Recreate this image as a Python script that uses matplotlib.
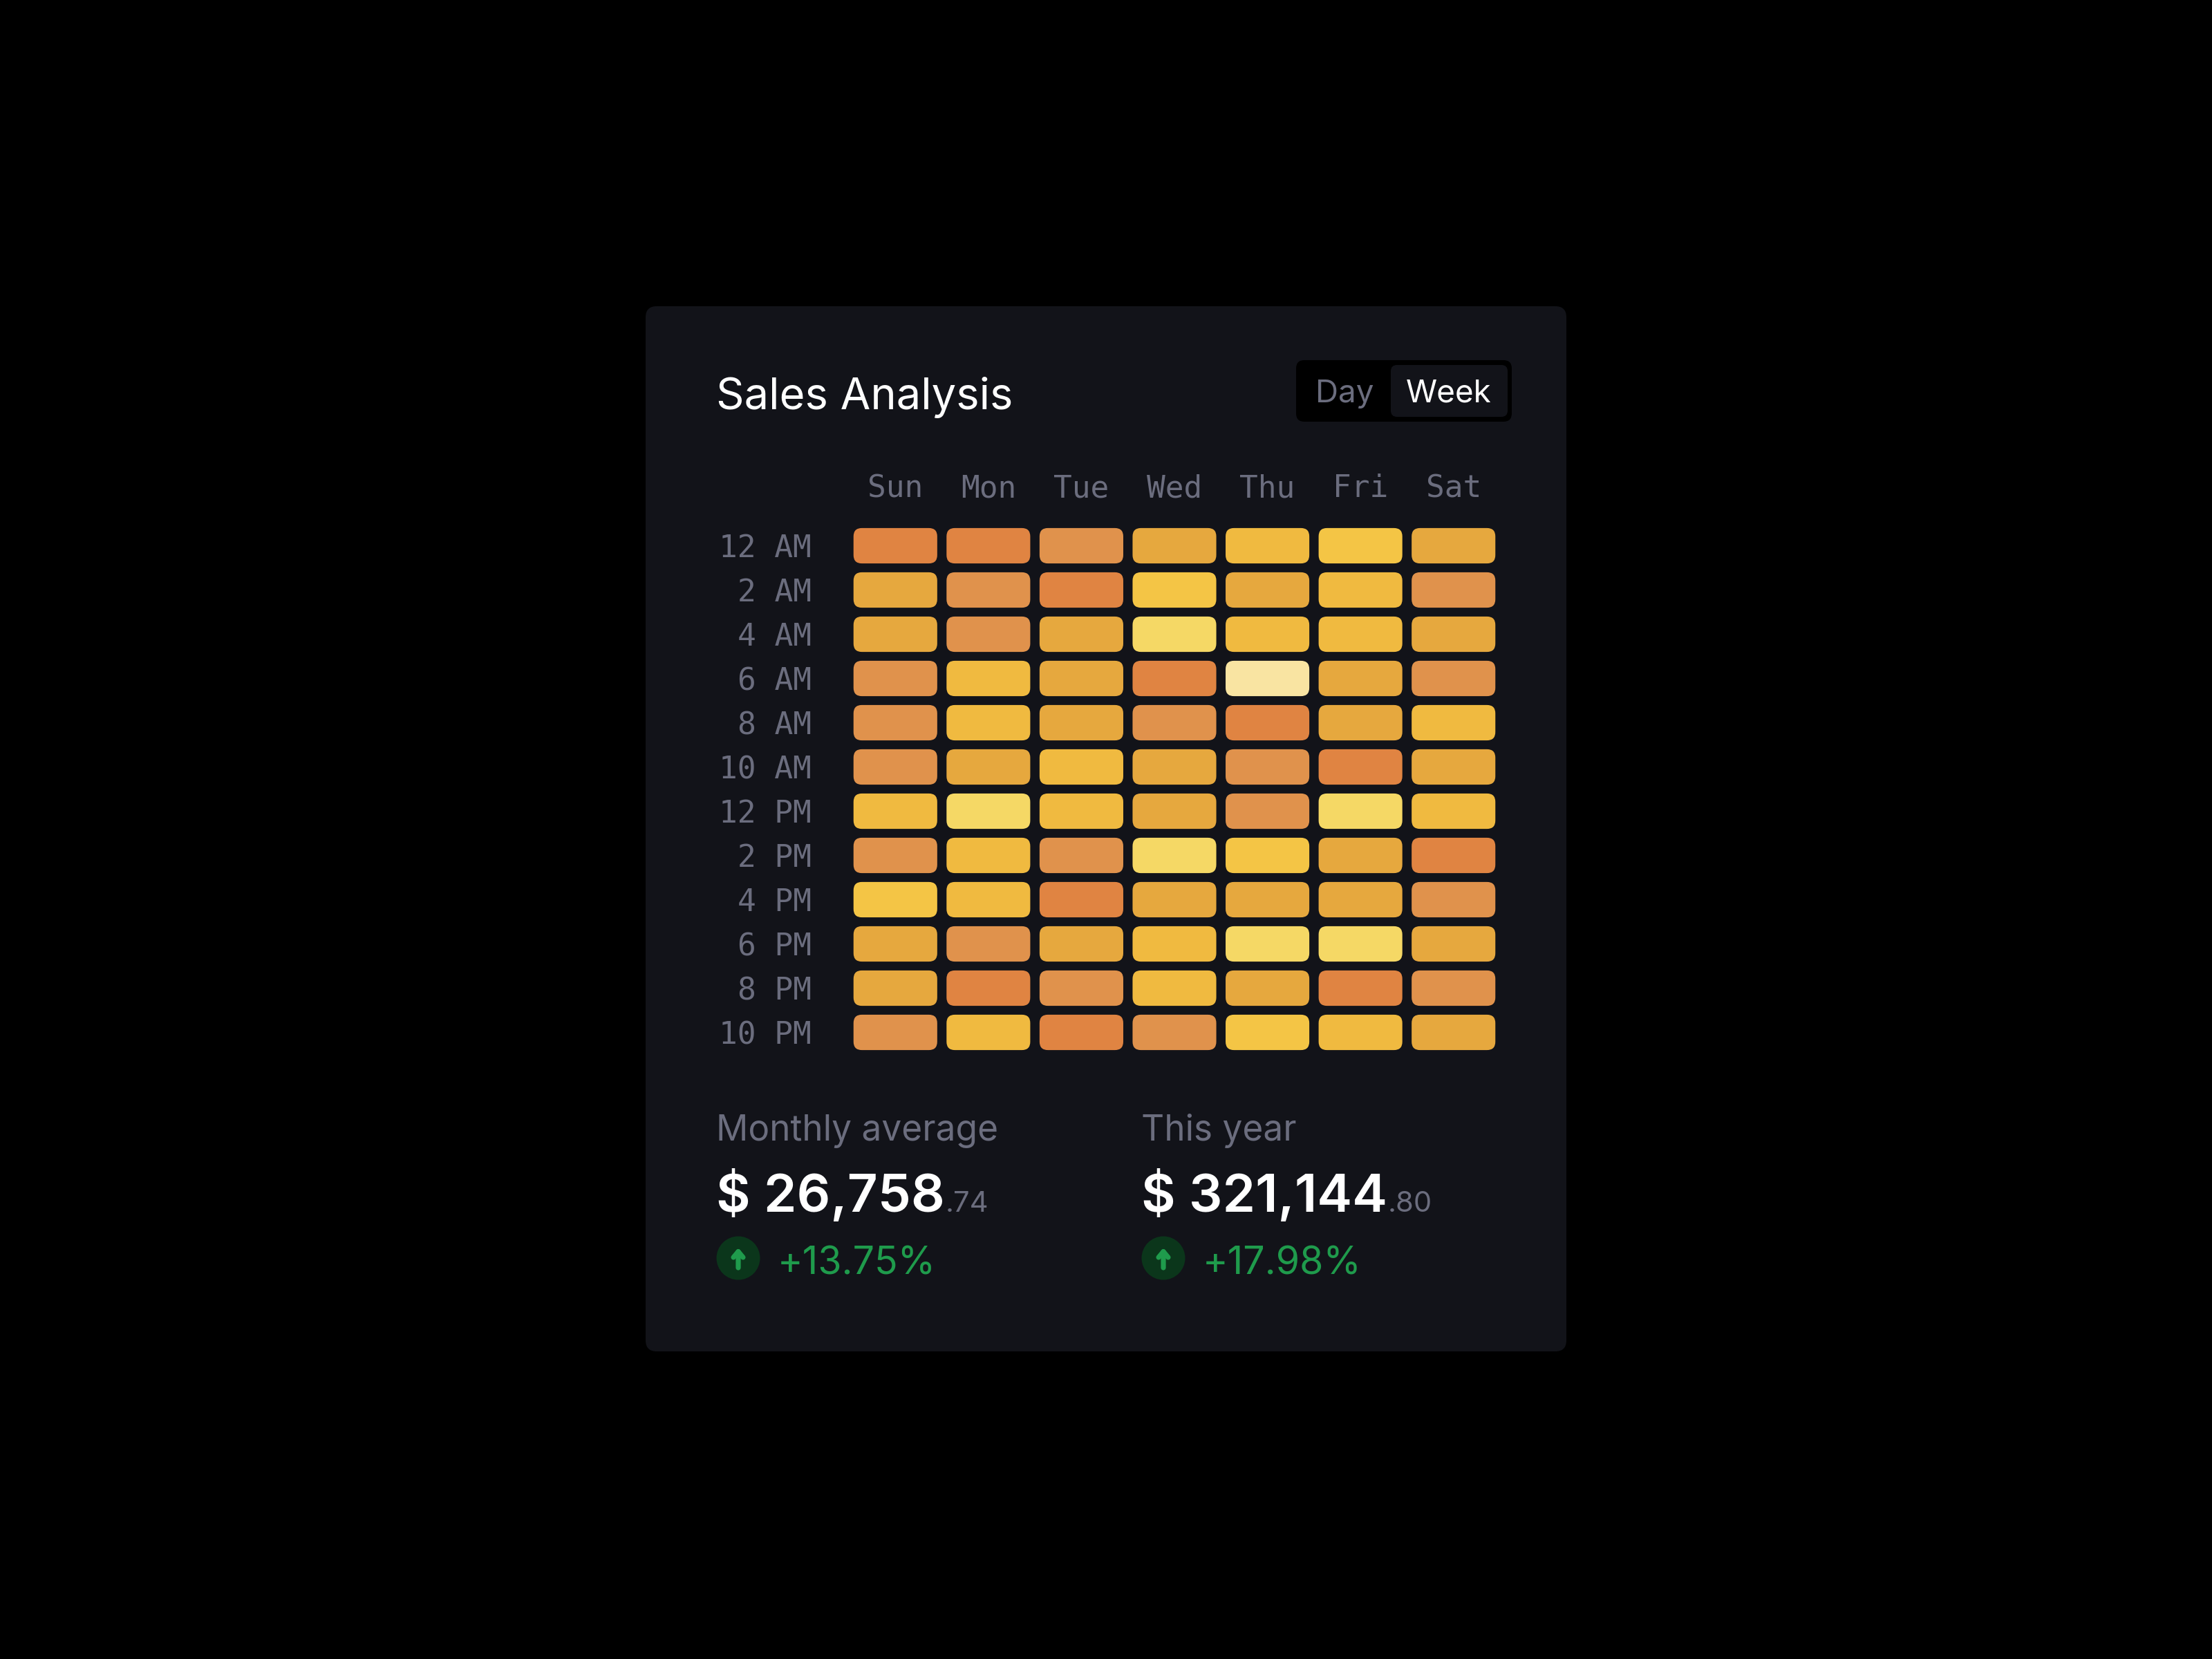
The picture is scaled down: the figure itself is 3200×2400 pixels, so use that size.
"""
Sales Analysis card: weekly heatmap of sales intensity by hour and weekday.
"""

import numpy as np
import matplotlib
matplotlib.use("Agg")
import matplotlib.pyplot as plt
from matplotlib.patches import FancyBboxPatch, Circle

# ---- data ----
days = ["Sun", "Mon", "Tue", "Wed", "Thu", "Fri", "Sat"]
hours = ["12 AM", "2 AM", "4 AM", "6 AM", "8 AM", "10 AM",
         "12 PM", "2 PM", "4 PM", "6 PM", "8 PM", "10 PM"]

# sales intensity level per (hour, weekday), 0 = low ... 6 = high
levels = [
    [0, 0, 1, 2, 3, 4, 2],
    [2, 1, 0, 4, 2, 3, 1],
    [2, 1, 2, 5, 3, 3, 2],
    [1, 3, 2, 0, 6, 2, 1],
    [1, 3, 2, 1, 0, 2, 3],
    [1, 2, 3, 2, 1, 0, 2],
    [3, 5, 3, 2, 1, 5, 3],
    [1, 3, 1, 5, 4, 2, 0],
    [4, 3, 0, 2, 2, 2, 1],
    [2, 1, 2, 3, 5, 5, 2],
    [2, 0, 1, 3, 2, 0, 1],
    [1, 3, 0, 1, 4, 3, 2],
]
level_colors = ["#E08442", "#E0924C", "#E6A83E", "#F0BA40",
                "#F4C545", "#F5D865", "#F9E4A2"]

stat_labels = ["Monthly average", "This year"]
stat_whole = ["$ 26,758", "$ 321,144"]
stat_cents = [".74", ".80"]
stat_change = ["+13.75%", "+17.98%"]

# ---- style ----
BG = "#000000"
CARD = "#121319"
GREY = "#6B6D7E"
WHITE = "#FFFFFF"
GREEN = "#1F9B4C"
GREEN_BG = "#0B361B"
SANS = ["Inter", "DejaVu Sans"]
MONO = ["DejaVu Sans Mono"]

W, H = 3200, 2400
fig = plt.figure(figsize=(16, 12), dpi=200, facecolor=BG)

# background layer in pixel coordinates
bg = fig.add_axes([0, 0, 1, 1])
bg.set_xlim(0, W)
bg.set_ylim(H, 0)
bg.axis("off")
bg.set_facecolor(BG)

bg.add_patch(FancyBboxPatch((934, 443), 1332, 1512,
                            boxstyle="round,pad=0,rounding_size=16",
                            facecolor=CARD, edgecolor="none", zorder=0))

bg.text(1036, 592, "Sales Analysis", color=WHITE, fontsize=22.8,
        family=SANS, va="baseline", ha="left")

# Day / Week toggle
bg.add_patch(FancyBboxPatch((1875, 521), 312, 89,
                            boxstyle="round,pad=0,rounding_size=12",
                            facecolor="#000000", edgecolor="none", zorder=1))
bg.add_patch(FancyBboxPatch((2012, 528), 169, 75,
                            boxstyle="round,pad=0,rounding_size=9",
                            facecolor=CARD, edgecolor="none", zorder=2))
bg.text(1945, 582, "Day", color=GREY, fontsize=16.5, family=SANS,
        ha="center", va="baseline", zorder=3)
bg.text(2096, 582, "Week", color=WHITE, fontsize=16.5, family=SANS,
        ha="center", va="baseline", zorder=3)

# ---- heatmap ----
ax = fig.add_axes([1228 / W, 1 - 1525.5 / H, (2170 - 1228) / W, (1525.5 - 757.5) / H])
ax.set_xlim(0, len(days))
ax.set_ylim(len(hours), 0)
ax.set_facecolor("none")
for s in ax.spines.values():
    s.set_visible(False)

aspect = (942 / 7) / (768 / 12)  # x-units-per-px vs y-units-per-px ratio
for r, row in enumerate(levels):
    for c, lv in enumerate(row):
        ax.add_patch(FancyBboxPatch((c + 0.05, r + 0.1), 0.9, 0.8,
                                    boxstyle="round,pad=0,rounding_size=0.09",
                                    mutation_aspect=aspect,
                                    facecolor=level_colors[lv], edgecolor="none"))

ax.xaxis.tick_top()
ax.set_xticks(np.arange(len(days)) + 0.5, days)
ax.set_yticks(np.arange(len(hours)) + 0.5, hours)
ax.tick_params(length=0, colors=GREY, labelsize=16)
ax.tick_params(axis="x", pad=10.5)
ax.tick_params(axis="y", pad=19.5)
for lab in ax.get_xticklabels() + ax.get_yticklabels():
    lab.set_family(MONO)
    lab.set_color(GREY)

# ---- summary stats ----
fig.canvas.draw()
renderer = fig.canvas.get_renderer()
inv = bg.transData.inverted()
for i, x0 in enumerate([1036, 1651]):
    bg.text(x0, 1650, stat_labels[i], color=GREY, fontsize=18.5, family=SANS,
            ha="left", va="baseline")
    t = bg.text(x0, 1753, stat_whole[i], color=WHITE, fontsize=27.5,
                weight="semibold", family=SANS, ha="left", va="baseline")
    bb = t.get_window_extent(renderer)
    x_end = inv.transform((bb.x1, bb.y0))[0]
    bg.text(x_end + 1, 1753, stat_cents[i], color=GREY, fontsize=15,
            family=SANS, ha="left", va="baseline")

    cx, cy = x0 + 32, 1820
    bg.add_patch(Circle((cx, cy), 31.5, facecolor=GREEN_BG, edgecolor="none"))
    bg.annotate("", xy=(cx, cy - 15), xytext=(cx, cy + 14),
                arrowprops=dict(arrowstyle="->,head_width=0.25,head_length=0.3",
                                color=GREEN, lw=2.6, shrinkA=0, shrinkB=0))
    bg.text(x0 + 89, 1843, stat_change[i], color=GREEN, fontsize=20,
            family=SANS, ha="left", va="baseline")

fig.savefig("out.png", dpi=200, facecolor=BG)
